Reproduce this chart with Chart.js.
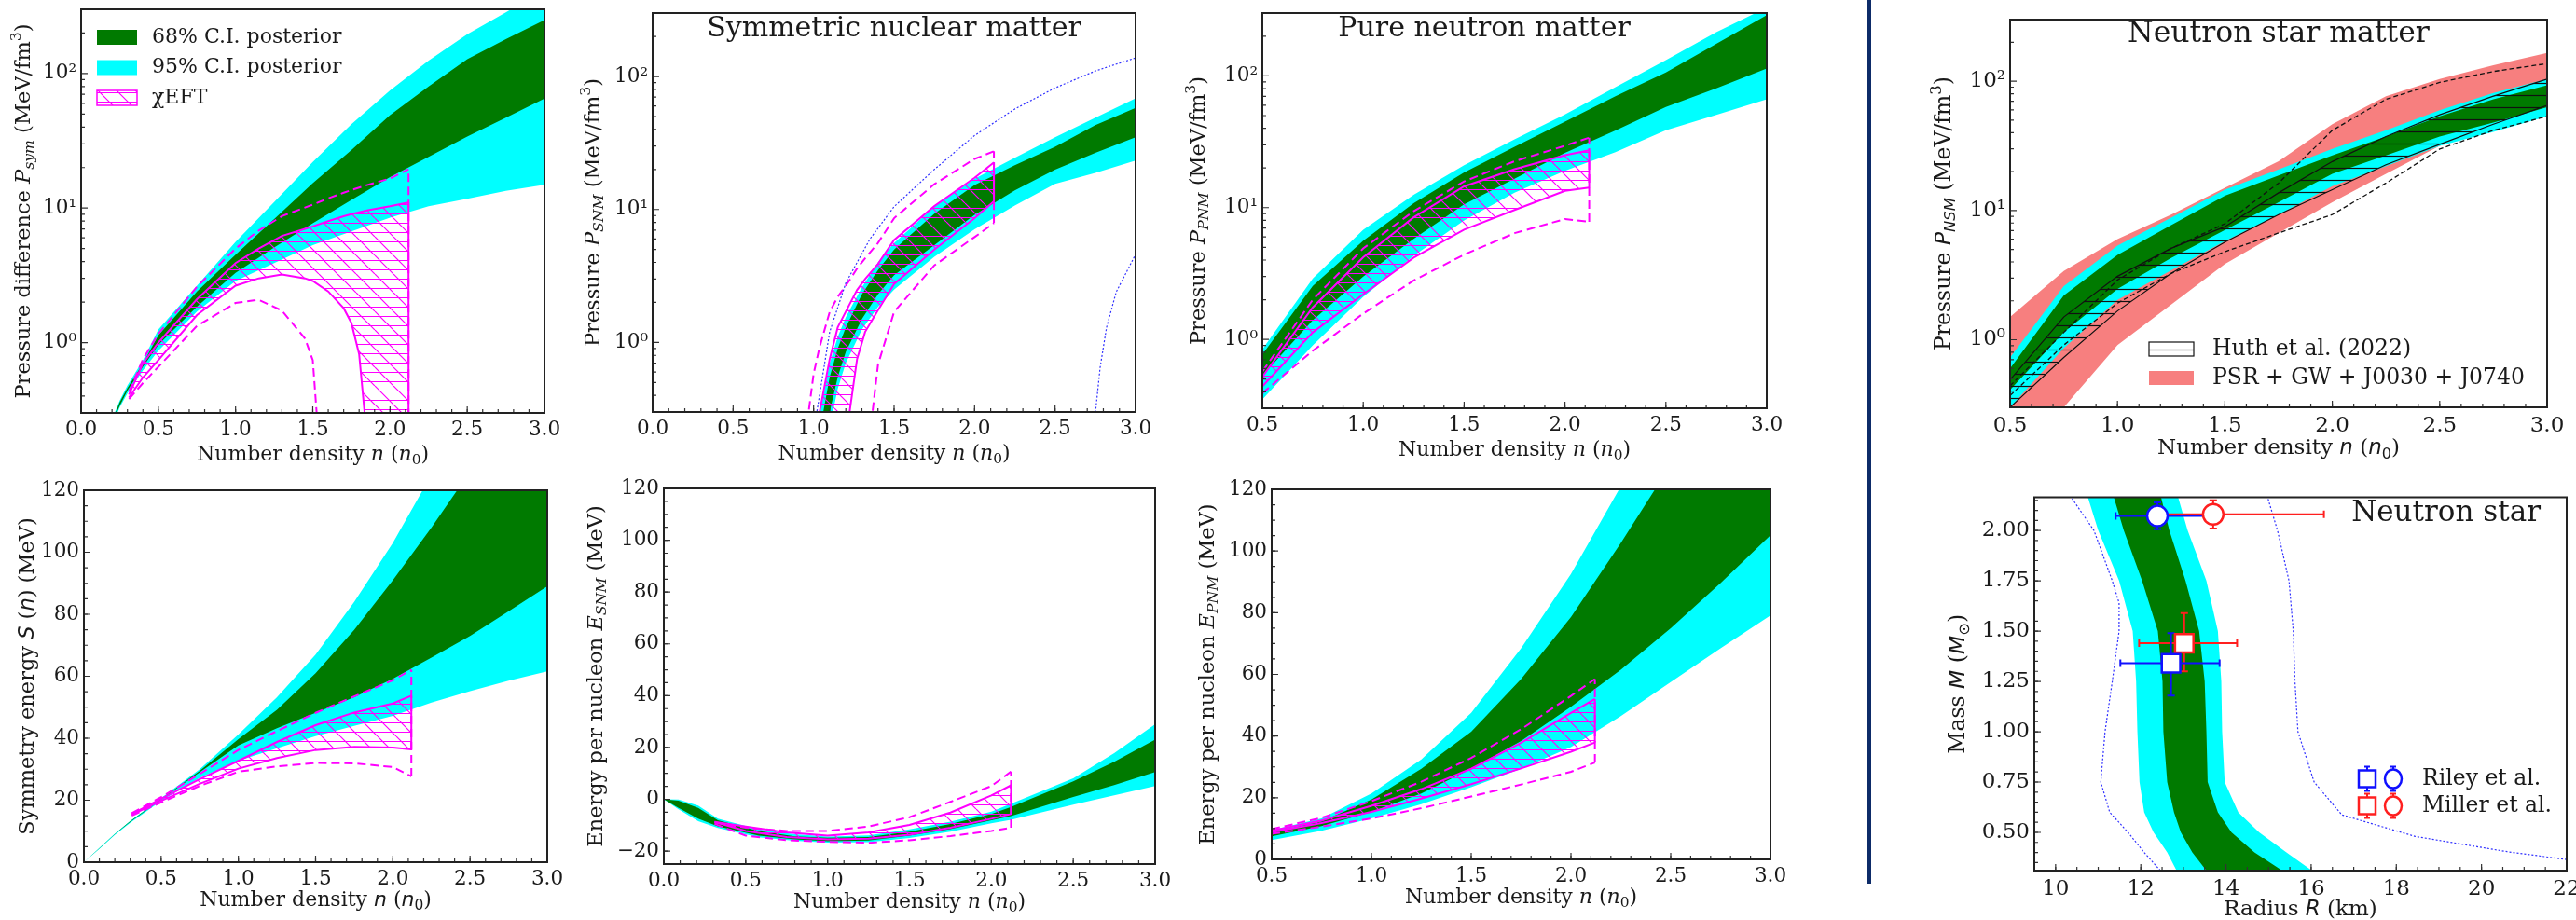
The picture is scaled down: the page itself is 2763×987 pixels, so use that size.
<!DOCTYPE html>
<html>
<head>
<meta charset="utf-8">
<title>Dense matter constraints</title>
<script src="https://cdn.jsdelivr.net/npm/chart.js@4.4.1/dist/chart.umd.min.js"></script>
<style>
  html, body { margin: 0; padding: 0; background: #fff; }
  body { position: relative; width: 2763px; height: 987px; overflow: hidden; }
  canvas { position: absolute; }
  #divider { position: absolute; left: 2002px; top: 0; width: 5px; height: 948px; background: #0d2b68; }
</style>
</head>
<body>
<div id="divider"></div>
<script>
const SERIF = "'DejaVu Serif', serif";
const SANS = "'DejaVu Sans', sans-serif";
const INK = '#1a1a1a';
const GREEN = '#007a00';
const CYAN = '#00ffff';
const MAGENTA = '#ff00ff';
const SALMON = '#f77f7f';
const BLUE = '#1010ff';
const RED = '#ff1f1f';
const DOTBLUE = '#3030ff';
const DASH = [9, 5];

// ---------- tick labels ----------
const ticksN0 = [0, 0.5, 1, 1.5, 2, 2.5, 3];
const ticksN05 = [0.5, 1, 1.5, 2, 2.5, 3];
const ticksLog = [1, 10, 100];
const ticksE = [0, 20, 40, 60, 80, 100, 120];
const ticksESNM = [-20, 0, 20, 40, 60, 80, 100, 120];
const ticksR = [10, 12, 14, 16, 18, 20, 22];
const ticksM = [0.5, 0.75, 1.0, 1.25, 1.5, 1.75, 2.0];

// ---------- pressure difference P_sym ----------
const symN = [0.2, 0.25, 0.3, 0.4, 0.5, 0.75, 1.0, 1.25, 1.5, 1.75, 2.0, 2.25, 2.5, 2.75, 3.0];
const symP95Hi = [0.27, 0.37, 0.48, 0.74, 1.25, 2.65, 5.6, 11.1, 22, 42, 75, 125, 196, 285, 420];
const symP68Hi = [0.26, 0.36, 0.46, 0.7, 1.13, 2.4, 4.5, 8.3, 15.3, 27, 49, 80, 128, 180, 250];
const symP68Lo = [0.25, 0.34, 0.44, 0.66, 0.96, 1.85, 3.3, 5.1, 7.7, 11.5, 17, 24, 34, 47, 65];
const symP95Lo = [0.24, 0.33, 0.42, 0.62, 0.87, 1.7, 2.87, 3.9, 5.3, 6.7, 8.5, 10.3, 11.7, 13.4, 14.9];
const symEftN = [0.31, 0.4, 0.5, 0.75, 1.0, 1.15, 1.3, 1.45, 1.5, 1.6, 1.7, 1.75, 1.8, 1.85, 2.0, 2.12];
const symEftHi = [0.41, 0.7, 1.0, 2.1, 3.9, 5.0, 6.2, 7.0, 7.3, 8.0, 8.7, 9.0, 9.3, 9.6, 10.3, 11.0];
const symEftLo = [0.39, 0.55, 0.74, 1.6, 2.65, 3.0, 3.2, 3.0, 2.87, 2.4, 1.8, 1.4, 0.82, 0.2, 0.05, 0.03];
const symEftHiB = [0.43, 0.75, 1.16, 2.6, 5.0, 6.8, 8.7, 10.1, 10.6, 11.8, 13.0, 13.6, 14.2, 14.8, 16.6, 19.4];
const symEftLoB = [0.38, 0.5, 0.66, 1.33, 1.97, 2.08, 1.73, 1.07, 0.74, 0.02, null, null, null, null, null, null];

// ---------- symmetric nuclear matter pressure ----------
const snmN = [1.0, 1.03, 1.06, 1.1, 1.15, 1.2, 1.3, 1.4, 1.5, 1.75, 2.0, 2.25, 2.5, 2.75, 3.0];
const snmP95Hi = [0.15, 0.25, 0.4, 0.7, 1.1, 1.55, 2.6, 4.0, 5.6, 10.5, 17, 24.5, 34.9, 49, 68.5];
const snmP68Hi = [0.1, 0.18, 0.3, 0.55, 0.9, 1.3, 2.3, 3.5, 5.0, 9.3, 15.3, 21.5, 29.6, 43, 58];
const snmP68Lo = [0.05, 0.1, 0.18, 0.3, 0.55, 0.85, 1.5, 2.3, 3.2, 5.4, 9.1, 13.9, 19.9, 26.7, 34.9];
const snmP95Lo = [0.03, 0.06, 0.12, 0.23, 0.45, 0.7, 1.25, 1.85, 2.5, 4.4, 7.1, 10.7, 15.6, 18.8, 23.3];
const snmEftN = [0.95, 1.0, 1.035, 1.1, 1.15, 1.22, 1.27, 1.32, 1.4, 1.5, 1.75, 2.0, 2.12];
const snmEftHi = [0.05, 0.13, 0.29, 0.75, 1.3, 1.9, 2.48, 3.0, 3.9, 5.9, 10.6, 17.3, 22.6];
const snmEftLo = [0.005, 0.01, 0.02, 0.05, 0.1, 0.28, 0.75, 1.2, 1.75, 2.75, 5.0, 8.6, 11.5];
const snmEftHiB = [0.2, 0.58, 0.9, 1.7, 2.2, 2.9, 3.6, 4.3, 5.6, 8.6, 15.5, 24, 27.4];
const snmEftLoB = [null, null, null, null, null, null, null, 0.1, 0.68, 1.7, 3.8, 6.2, 7.9];
const snmPriorN = [1.0, 1.02, 1.1, 1.2, 1.35, 1.5, 1.75, 2.0, 2.25, 2.5, 2.75, 3.0, 3.0, 2.95, 2.88, 2.82, 2.78, 2.75, 2.74];
const snmPriorP = [0.15, 0.3, 1.2, 2.8, 6.0, 10.5, 20, 36, 57, 82, 110, 138, 4.6, 3.5, 2.4, 1.3, 0.65, 0.29, 0.2];

// ---------- pure neutron matter pressure ----------
const pnmN = [0.5, 0.75, 1.0, 1.25, 1.5, 1.75, 2.0, 2.25, 2.5, 2.75, 3.0];
const pnmP95Hi = [0.84, 2.9, 6.8, 12.5, 21, 33, 51, 82, 132, 215, 330];
const pnmP68Hi = [0.77, 2.55, 5.6, 10.8, 18.5, 29, 45, 70, 106, 175, 289];
const pnmP68Lo = [0.53, 1.4, 3.0, 5.8, 10.6, 16.6, 26, 38.5, 58, 80.5, 114];
const pnmP95Lo = [0.35, 0.9, 2.1, 4.3, 8.0, 13, 19, 26.4, 38.7, 50.7, 66.5];
const pnmEftN = [0.5, 0.75, 1.0, 1.25, 1.5, 1.75, 2.0, 2.12];
const pnmEftHi = [0.52, 1.75, 4.2, 8.45, 14.5, 19.6, 25, 27.2];
const pnmEftLo = [0.44, 1.13, 2.2, 4.17, 6.8, 9.6, 13.4, 14.2];
const pnmEftHiB = [0.57, 2.0, 4.9, 9.4, 15.8, 22.5, 29.5, 34];
const pnmEftLoB = [0.39, 0.82, 1.57, 2.8, 4.4, 6.4, 8.2, 7.8];

// ---------- neutron star matter pressure ----------
const nsmN = [0.5, 0.75, 1.0, 1.25, 1.5, 1.75, 2.0, 2.25, 2.5, 2.75, 3.0];
const nsmAstroHi = [1.5, 3.4, 6.0, 9.3, 15, 24, 46.5, 76.7, 104, 133, 166];
const nsmAstroLo = [0.12, 0.3, 0.91, 1.87, 3.85, 6.7, 11.6, 19.2, 31.6, 46, 60];
const nsmP95Hi = [0.73, 2.6, 5.36, 8.8, 14.5, 20.8, 29.9, 41.7, 59.7, 81, 104];
const nsmP68Hi = [0.6, 2.2, 4.54, 7.7, 13, 18.7, 26.7, 37.3, 53.5, 72.5, 93];
const nsmP68Lo = [0.41, 1.14, 2.47, 4.3, 7.07, 11.6, 19.2, 26.7, 37.3, 47.9, 63];
const nsmP95Lo = [0.3, 0.86, 2.03, 3.44, 5.8, 9.3, 15.4, 22, 31.6, 40.5, 53.5];
const nsmHuthHi = [0.49, 1.5, 3.1, 5.1, 7.5, 13.7, 23.9, 37.3, 55, 76.7, 104];
const nsmHuthLo = [0.3, 0.73, 1.67, 3.26, 5.7, 9.3, 14.5, 22.6, 32.5, 46.5, 65];
const nsmDashHi = [0.44, 1.14, 2.9, 5.1, 7.9, 16.3, 41.7, 72.5, 98, 119, 137];
const nsmDashLo = [0.37, 0.91, 1.92, 3.26, 4.8, 6.7, 9.3, 16.3, 29.9, 41.7, 53.5];

// ---------- symmetry energy S(n) ----------
const symEN = [0, 0.1, 0.2, 0.3, 0.5, 0.75, 1.0, 1.25, 1.5, 1.75, 2.0, 2.25, 2.5, 2.75, 3.0];
const symE95Hi = [0, 4.6, 9.2, 13.3, 20.7, 30, 41.2, 53.2, 67, 84, 103, 125, 160, 200, 240];
const symE68Hi = [0, 4.5, 9.1, 13.2, 20.4, 29.5, 39.7, 49.2, 61, 75, 91, 108, 126, 150, 175];
const symE68Lo = [0, 4.4, 9.0, 13.0, 20.2, 29, 37.7, 43.2, 48.2, 53.2, 59.2, 66, 73, 81, 89];
const symE95Lo = [0, 4.3, 8.8, 12.7, 19.8, 27.2, 32.7, 36.8, 40.7, 44, 47.2, 51.5, 55.2, 58.6, 61.6];
const symEEftN = [0.31, 0.5, 0.75, 1.0, 1.25, 1.5, 1.75, 2.0, 2.12];
const symEEftHi = [15.5, 20.5, 26.8, 32.7, 38.8, 44.2, 48.3, 51.2, 53.7];
const symEEftLo = [15.3, 19.8, 25.3, 30.2, 33.6, 36.2, 37.2, 37.0, 36.4];
const symEEftHiB = [15.8, 21, 28.5, 36.2, 42.3, 48.2, 53.5, 58.7, 62.1];
const symEEftLoB = [15.0, 19.3, 24.6, 29.2, 30.9, 32.0, 31.9, 30.7, 27.7];

// ---------- energy per nucleon, SNM ----------
const snmEN = [0, 0.09, 0.21, 0.33, 0.58, 0.8, 1.0, 1.25, 1.5, 1.75, 2.0, 2.12, 2.5, 2.75, 3.0];
const snmE95Hi = [0, -0.06, -2.45, -7.46, -11.64, -13.5, -14.4, -13.9, -11.6, -8.6, -4.8, -1.7, 8.1, 17.8, 29.0];
const snmE68Hi = [0, -0.53, -3.28, -8.06, -12.2, -14.3, -14.87, -14.6, -12.5, -9.5, -5.7, -3.0, 6.9, 14.5, 23.0];
const snmE68Lo = [0, -3.28, -7.46, -10.45, -14.03, -15.5, -16.2, -15.9, -14.0, -11.5, -8.1, -6.5, 0.9, 5.5, 10.5];
const snmE95Lo = [0, -3.88, -8.42, -11.05, -14.63, -16.0, -16.7, -16.5, -14.9, -12.5, -9.3, -7.9, -2.1, 1.5, 5.1];
const snmEEftN = [0.31, 0.5, 0.75, 1.0, 1.25, 1.5, 1.75, 2.0, 2.12];
const snmEEftHi = [-8.7, -10.5, -12.8, -14.0, -12.8, -9.9, -5.1, 1.5, 5.4];
const snmEEftLo = [-8.7, -12.2, -14.6, -15.5, -15.2, -13.7, -11.0, -7.5, -5.7];
const snmEEftHiB = [-9.0, -11.0, -12.2, -12.2, -10.5, -6.9, -1.0, 5.1, 10.7];
const snmEEftLoB = [-9.5, -14.0, -15.8, -16.4, -16.8, -15.8, -14.2, -12.2, -11.0];

// ---------- energy per nucleon, PNM ----------
const pnmEN = [0.5, 0.75, 1.0, 1.25, 1.5, 1.75, 2.0, 2.25, 2.5, 2.75, 3.0];
const pnmE95Hi = [9.5, 13.3, 21.4, 32.4, 47.5, 68.5, 92.6, 121, 150, 190, 230];
const pnmE68Hi = [8.8, 12.3, 19.4, 29.4, 41.4, 58.5, 78.6, 102.6, 128, 160, 190];
const pnmE68Lo = [7.5, 10.8, 15.4, 21.4, 29.4, 38.4, 49.5, 61.5, 75, 89.6, 105.1];
const pnmE95Lo = [6.3, 9.3, 13.3, 17.9, 23.4, 29.4, 36.4, 46.5, 57.5, 68.5, 79.1];
const pnmEEftN = [0.5, 0.75, 1.0, 1.25, 1.5, 1.75, 2.0, 2.12];
const pnmEEftHi = [9.3, 12.6, 17.4, 22.8, 29.4, 37.8, 47.5, 52];
const pnmEEftLo = [8.8, 11.8, 15.4, 19.7, 24.4, 29.5, 34.9, 37.9];
const pnmEEftHiB = [9.8, 13.5, 18.9, 25.2, 32.9, 42.2, 53, 58.5];
const pnmEEftLoB = [8.3, 10.6, 13.3, 16.6, 20.4, 24.3, 28.4, 31.4];

// ---------- mass-radius ----------
const mrMass = [0.31, 0.4, 0.5, 0.6, 0.75, 1.0, 1.25, 1.5, 1.75, 2.0, 2.17];
const mrR95Lo = [12.84, 12.62, 12.3, 12.08, 11.97, 11.92, 11.89, 11.81, 11.49, 11.0, 10.75];
const mrR68Lo = [13.54, 13.21, 12.94, 12.78, 12.62, 12.53, 12.51, 12.4, 12.03, 11.6, 11.36];
const mrR68Hi = [15.32, 14.67, 14.13, 13.81, 13.57, 13.54, 13.5, 13.37, 13.05, 12.67, 12.47];
const mrR95Hi = [16.02, 15.42, 14.78, 14.29, 13.97, 13.91, 13.89, 13.81, 13.54, 13.1, 12.87];
const priorLeftM = [0.31, 0.4, 0.5, 0.6, 0.75, 1.0, 1.25, 1.5, 1.64, 1.75, 2.0, 2.17];
const priorLeftR = [12.46, 12.08, 11.7, 11.27, 11.06, 11.16, 11.33, 11.49, 11.49, 11.33, 10.9, 10.35];
const priorRightM = [0.365, 0.404, 0.48, 0.587, 0.75, 1.0, 1.25, 1.5, 1.75, 2.0, 2.17];
const priorRightR = [22.0, 20.6, 18.44, 16.72, 16.07, 15.69, 15.62, 15.58, 15.48, 15.21, 14.97];
// Riley et al.: [J0030, J0740]
const rileyR = [12.71, 12.39];
const rileyM = [1.34, 2.072];
const rileyRLo = [11.52, 11.41];
const rileyRHi = [13.85, 13.69];
const rileyMLo = [1.18, 2.006];
const rileyMHi = [1.49, 2.139];
// Miller et al.: [J0030, J0740]
const millerR = [13.02, 13.7];
const millerM = [1.44, 2.08];
const millerRLo = [11.96, 12.2];
const millerRHi = [14.26, 16.3];
const millerMLo = [1.30, 2.01];
const millerMHi = [1.59, 2.15];

// ---------- helpers ----------
const range = (a, b, s) => { const r = []; for (let v = a; v <= b + 1e-9; v += s) r.push(+v.toFixed(4)); return r; };
const minorLog = [];
for (const d of [0.1, 1, 10, 100]) for (let k = 2; k <= 9; k++) minorLog.push(+(k * d).toFixed(4));

function hatch(color, size, diag, rows) {
  const c = document.createElement('canvas');
  c.width = size; c.height = size;
  const g = c.getContext('2d');
  g.strokeStyle = color; g.lineWidth = 1.2;
  g.beginPath();
  if (diag) for (const o of [-size, 0, size]) { g.moveTo(o, 0); g.lineTo(o + size, size); }
  for (const y of rows) { g.moveTo(0, y); g.lineTo(size, y); }
  g.stroke();
  return g.createPattern(c, 'repeat');
}
const eftHatch = hatch(MAGENTA, 20, true, [5.5, 15.5]);
const huthHatch = hatch('#111', 13, false, [6.5]);

const pts = (xs, ys) => xs.map((x, i) => ({x, y: ys[i]}));
const band = (xs, lo, hi, color) => ({
  data: pts(xs, hi).concat(pts(xs, lo).reverse()),
  fill: 'shape', backgroundColor: color, borderColor: 'transparent', borderWidth: 0, pointRadius: 0,
});
const sideBand = (ys, left, right, color) => ({
  data: pts(left, ys).concat(pts(right, ys).reverse()),
  fill: 'shape', backgroundColor: color, borderColor: 'transparent', borderWidth: 0, pointRadius: 0,
});
const curve = (xs, ys, color, width, dash) => ({
  data: pts(xs, ys), fill: false, borderColor: color, borderWidth: width, borderDash: dash || [], pointRadius: 0,
});
function eftSet(xs, lo, hi, loB, hiB) {
  const xe = xs[xs.length - 1];
  const loEnd = loB[loB.length - 1] ?? lo[lo.length - 1];
  return [
    band(xs, lo, hi, eftHatch),
    curve(xs, hi, MAGENTA, 2), curve(xs, lo, MAGENTA, 2),
    curve(xs, hiB, MAGENTA, 2, DASH), curve(xs, loB, MAGENTA, 2, DASH),
    curve([xe, xe], [lo[lo.length - 1], hi[hi.length - 1]], MAGENTA, 2),
    curve([xe, xe], [loEnd, hiB[hiB.length - 1]], MAGENTA, 2, DASH),
  ];
}
function errBars(R, M, RLo, RHi, MLo, MHi, color) {
  const out = [];
  const common = {borderColor: color, borderWidth: 2, fill: false, pointStyle: 'line', pointRadius: 4,
    pointBorderColor: color, pointBorderWidth: 2};
  R.forEach((r, i) => {
    out.push({...common, data: [{x: RLo[i], y: M[i]}, {x: RHi[i], y: M[i]}], pointRotation: 90});
    out.push({...common, data: [{x: r, y: MLo[i]}, {x: r, y: MHi[i]}], pointRotation: 0});
  });
  return out;
}
const markers = (R, M, color) => ({
  data: pts(R, M), showLine: false, pointStyle: ['rect', 'circle'], pointRadius: [14, 11],
  pointBackgroundColor: '#fff', pointBorderColor: color, pointBorderWidth: 2.5,
});

const f1 = v => v.toFixed(1);
const f2 = v => v.toFixed(2);
const fInt = v => (v < 0 ? '\u2212' + Math.abs(v) : String(v));
const fPow = v => '10' + '\u2070\u00b9\u00b2\u00b3'[Math.round(Math.log10(v))];

// rich text: flags i = italic, s = subscript, p = superscript, a = sans
function drawRich(ctx, parts, x, y, size, rotate) {
  const fontFor = f => {
    const sz = /[sp]/.test(f) ? size * 0.7 : size;
    return (f.includes('i') ? 'italic ' : '') + sz.toFixed(1) + 'px ' + (f.includes('a') ? SANS : SERIF);
  };
  ctx.save();
  ctx.translate(x, y);
  if (rotate) ctx.rotate(-Math.PI / 2);
  let w = 0;
  for (const [t, f = ''] of parts) { ctx.font = fontFor(f); w += ctx.measureText(t).width; }
  let cx = -w / 2;
  ctx.textAlign = 'left'; ctx.textBaseline = 'middle'; ctx.fillStyle = INK;
  for (const [t, f = ''] of parts) {
    ctx.font = fontFor(f);
    const dy = f.includes('s') ? size * 0.28 : f.includes('p') ? -size * 0.36 : 0;
    ctx.fillText(t, cx, dy);
    cx += ctx.measureText(t).width;
  }
  ctx.restore();
}

function deco(cfg) {
  return {
    id: 'deco',
    afterDatasetsDraw(chart) {
      const {ctx, chartArea: a, scales: {x, y}} = chart;
      ctx.save();
      ctx.strokeStyle = '#333'; ctx.lineWidth = 1.2;
      const marks = (scale, vals, len, isX) => {
        ctx.beginPath();
        for (const v of vals) {
          if (v < scale.min - 1e-9 || v > scale.max + 1e-9) continue;
          const p = scale.getPixelForValue(v);
          if (isX) { ctx.moveTo(p, a.bottom); ctx.lineTo(p, a.bottom - len); }
          else { ctx.moveTo(a.left, p); ctx.lineTo(a.left + len, p); }
        }
        ctx.stroke();
      };
      marks(x, cfg.xMinor, 4, true); marks(x, cfg.xMajor, 7, true);
      marks(y, cfg.yMinor, 4, false); marks(y, cfg.yMajor, 7, false);
      ctx.lineWidth = 2; ctx.strokeStyle = '#222';
      ctx.strokeRect(a.left, a.top, a.right - a.left, a.bottom - a.top);
      drawRich(ctx, cfg.xTitle, (a.left + a.right) / 2, a.bottom + cfg.xOff, cfg.axSize, false);
      drawRich(ctx, cfg.yTitle, a.left - cfg.yOff, (a.top + a.bottom) / 2, cfg.axSize + 0.5, true);
      if (cfg.title) {
        const t = cfg.title;
        ctx.font = t.size + 'px ' + SERIF; ctx.fillStyle = INK; ctx.textBaseline = 'middle';
        ctx.textAlign = t.align || 'center';
        const tx = t.align === 'right' ? a.right - t.dx : a.left + t.fx * (a.right - a.left);
        ctx.fillText(t.text, tx, a.top + t.dy);
      }
      if (cfg.legend) cfg.legend(ctx, a);
      ctx.restore();
    },
  };
}

const PAD_L = 125, PAD_T = 16, PAD_R = 32, PAD_B = 62;
function panel(box, xs, ys, datasets, cfg) {
  const [L, T, R, B] = box;
  const cv = document.createElement('canvas');
  cv.width = PAD_L + (R - L) + PAD_R;
  cv.height = PAD_T + (B - T) + PAD_B;
  cv.style.left = (L - PAD_L) + 'px';
  cv.style.top = (T - PAD_T) + 'px';
  document.body.appendChild(cv);
  datasets.forEach((d, i) => { d.order = datasets.length - i; d.tension = 0; });
  const tickFont = {family: SERIF, size: cfg.size};
  const axisBase = (spec, isX) => ({
    type: spec.type || 'linear', min: spec.min, max: spec.max,
    afterBuildTicks: s => { s.ticks = spec.ticks.map(v => ({value: v})); },
    afterFit: s => {
      if (isX) { s.height = PAD_B; s.paddingLeft = 0; s.paddingRight = 0; }
      else { s.width = PAD_L; s.paddingTop = 0; s.paddingBottom = 0; }
    },
    grid: {display: false, drawTicks: false},
    border: {display: false},
    ticks: {autoSkip: false, maxRotation: 0, padding: isX ? 6 : 5, color: INK, font: tickFont, callback: spec.fmt},
  });
  cfg.xMajor = xs.ticks; cfg.yMajor = ys.ticks;
  return new Chart(cv.getContext('2d'), {
    type: 'line',
    data: {datasets},
    options: {
      responsive: false, animation: false, devicePixelRatio: 1, events: [],
      layout: {padding: {left: 0, top: PAD_T, right: PAD_R, bottom: 0}},
      elements: {point: {radius: 0}, line: {tension: 0}},
      plugins: {legend: {display: false}, tooltip: {enabled: false}},
      scales: {x: axisBase(xs, true), y: axisBase(ys, false)},
    },
    plugins: [deco(cfg)],
  });
}

const numDen = [['Number density '], ['n', 'i'], [' ('], ['n', 'i'], ['0', 's'], [')']];
const numDenSans = [['Number density '], ['n', 'ia'], [' ('], ['n', 'ia'], ['0', 'sa'], [')']];
const xFull = {min: 0, max: 3, ticks: ticksN0, fmt: f1};
const xHalf = {min: 0.5, max: 3, ticks: ticksN05, fmt: f1};
const yLog = {type: 'logarithmic', min: 0.3, max: 300, ticks: ticksLog, fmt: fPow};
const minorN0 = range(0, 3, 0.1);
const minorE = range(-25, 120, 5);
const LEFT = {size: 21.5, axSize: 22};
const RIGHT = {size: 23, axSize: 23};

// ---------- top row ----------
panel([87, 10, 584, 443], xFull, yLog, [
  band(symN, symP95Lo, symP95Hi, CYAN),
  band(symN, symP68Lo, symP68Hi, GREEN),
  ...eftSet(symEftN, symEftLo, symEftHi, symEftLoB, symEftHiB),
], {
  ...LEFT, xTitle: numDen, xOff: 45, yOff: 61, xMinor: minorN0, yMinor: minorLog,
  yTitle: [['Pressure difference '], ['P', 'i'], ['sym', 'is'], [' (MeV/fm'], ['3', 'p'], [')']],
  legend(ctx, a) {
    const rows = [[GREEN, '68% C.I. posterior'], [CYAN, '95% C.I. posterior'], [eftHatch, '\u03c7EFT']];
    rows.forEach(([fill, label], i) => {
      const bx = a.left + 17, by = a.top + 22 + i * 32.5;
      if (i === 2) { ctx.fillStyle = '#fff'; ctx.fillRect(bx, by, 43, 16); }
      ctx.fillStyle = fill; ctx.fillRect(bx, by, 43, 16);
      if (i === 2) { ctx.strokeStyle = MAGENTA; ctx.lineWidth = 1.5; ctx.strokeRect(bx, by, 43, 16); }
      ctx.fillStyle = INK; ctx.font = '22px ' + SERIF; ctx.textAlign = 'left'; ctx.textBaseline = 'middle';
      ctx.fillText(label, a.left + 76, by + 8);
    });
  },
});

panel([700, 14, 1218, 442], xFull, yLog, [
  band(snmN, snmP95Lo, snmP95Hi, CYAN),
  band(snmN, snmP68Lo, snmP68Hi, GREEN),
  ...eftSet(snmEftN, snmEftLo, snmEftHi, snmEftLoB, snmEftHiB),
  curve(snmPriorN, snmPriorP, DOTBLUE, 1.2, [2, 2]),
], {
  ...LEFT, xTitle: numDen, xOff: 45, yOff: 63, xMinor: minorN0, yMinor: minorLog,
  yTitle: [['Pressure '], ['P', 'i'], ['SNM', 'is'], [' (MeV/fm'], ['3', 'p'], [')']],
  title: {text: 'Symmetric nuclear matter', size: 30, fx: 0.5, dy: 17},
});

panel([1354, 14, 1895, 438], xHalf, yLog, [
  band(pnmN, pnmP95Lo, pnmP95Hi, CYAN),
  band(pnmN, pnmP68Lo, pnmP68Hi, GREEN),
  ...eftSet(pnmEftN, pnmEftLo, pnmEftHi, pnmEftLoB, pnmEftHiB),
], {
  ...LEFT, xTitle: numDen, xOff: 45, yOff: 68, xMinor: range(0.5, 3, 0.1), yMinor: minorLog,
  yTitle: [['Pressure '], ['P', 'i'], ['PNM', 'is'], [' (MeV/fm'], ['3', 'p'], [')']],
  title: {text: 'Pure neutron matter', size: 30, fx: 0.44, dy: 17},
});

panel([2156, 21, 2732, 437], xHalf, yLog, [
  band(nsmN, nsmAstroLo, nsmAstroHi, SALMON),
  band(nsmN, nsmP95Lo, nsmP95Hi, CYAN),
  band(nsmN, nsmP68Lo, nsmP68Hi, GREEN),
  band(nsmN, nsmHuthLo, nsmHuthHi, huthHatch),
  curve(nsmN, nsmHuthHi, '#111', 1.2), curve(nsmN, nsmHuthLo, '#111', 1.2),
  curve(nsmN, nsmDashHi, '#111', 1.3, [5, 3]), curve(nsmN, nsmDashLo, '#111', 1.3, [5, 3]),
], {
  ...RIGHT, xTitle: numDenSans, xOff: 44, yOff: 70, xMinor: range(0.5, 3, 0.1), yMinor: minorLog,
  yTitle: [['Pressure '], ['P', 'ia'], ['NSM', 'ias'], [' (MeV/fm'], ['3', 'p'], [')']],
  title: {text: 'Neutron star matter', size: 31.5, fx: 0.5, dy: 16},
  legend(ctx, a) {
    const bx = a.left + 149;
    ctx.fillStyle = '#fff'; ctx.fillRect(bx, a.top + 346, 48, 15);
    ctx.fillStyle = huthHatch; ctx.fillRect(bx, a.top + 346, 48, 15);
    ctx.strokeStyle = '#111'; ctx.lineWidth = 1.2; ctx.strokeRect(bx, a.top + 346, 48, 15);
    ctx.fillStyle = SALMON; ctx.fillRect(bx, a.top + 377, 48, 15);
    ctx.fillStyle = INK; ctx.font = '23.5px ' + SERIF; ctx.textAlign = 'left'; ctx.textBaseline = 'middle';
    ctx.fillText('Huth et al. (2022)', a.left + 217, a.top + 354);
    ctx.fillText('PSR + GW + J0030 + J0740', a.left + 217, a.top + 385);
  },
});

// ---------- bottom row ----------
panel([90, 526, 587, 925], xFull, {min: 0, max: 120, ticks: ticksE, fmt: fInt}, [
  band(symEN, symE95Lo, symE95Hi, CYAN),
  band(symEN, symE68Lo, symE68Hi, GREEN),
  ...eftSet(symEEftN, symEEftLo, symEEftHi, symEEftLoB, symEEftHiB),
], {
  ...LEFT, xTitle: numDenSans, xOff: 41, yOff: 60, xMinor: minorN0, yMinor: minorE,
  yTitle: [['Symmetry energy '], ['S', 'ia'], [' ('], ['n', 'ia'], [') (MeV)']],
});

panel([712, 524, 1239, 927], xFull, {min: -25, max: 120, ticks: ticksESNM, fmt: fInt}, [
  band(snmEN, snmE95Lo, snmE95Hi, CYAN),
  band(snmEN, snmE68Lo, snmE68Hi, GREEN),
  ...eftSet(snmEEftN, snmEEftLo, snmEEftHi, snmEEftLoB, snmEEftHiB),
], {
  ...LEFT, xTitle: numDen, xOff: 41, yOff: 72, xMinor: minorN0, yMinor: minorE,
  yTitle: [['Energy per nucleon '], ['E', 'i'], ['SNM', 'is'], [' (MeV)']],
});

panel([1364, 525, 1899, 922], xHalf, {min: 0, max: 120, ticks: ticksE, fmt: fInt}, [
  band(pnmEN, pnmE95Lo, pnmE95Hi, CYAN),
  band(pnmEN, pnmE68Lo, pnmE68Hi, GREEN),
  ...eftSet(pnmEEftN, pnmEEftLo, pnmEEftHi, pnmEEftLoB, pnmEEftHiB),
], {
  ...LEFT, xTitle: numDen, xOff: 41, yOff: 68, xMinor: range(0.5, 3, 0.1), yMinor: minorE,
  yTitle: [['Energy per nucleon '], ['E', 'i'], ['PNM', 'is'], [' (MeV)']],
});

panel([2182, 533, 2753, 934], {min: 9.5, max: 22, ticks: ticksR, fmt: v => String(v)},
  {min: 0.31, max: 2.165, ticks: ticksM, fmt: f2}, [
  sideBand(mrMass, mrR95Lo, mrR95Hi, CYAN),
  sideBand(mrMass, mrR68Lo, mrR68Hi, GREEN),
  curve(priorLeftR, priorLeftM, DOTBLUE, 1.2, [2, 2]),
  curve(priorRightR, priorRightM, DOTBLUE, 1.2, [2, 2]),
  ...errBars(millerR, millerM, millerRLo, millerRHi, millerMLo, millerMHi, RED),
  ...errBars(rileyR, rileyM, rileyRLo, rileyRHi, rileyMLo, rileyMHi, BLUE),
  markers(millerR, millerM, RED),
  markers(rileyR, rileyM, BLUE),
], {
  ...RIGHT, xOff: 42, yOff: 81, xMinor: range(9.5, 22, 0.5), yMinor: range(0.35, 2.15, 0.05),
  xTitle: [['Radius '], ['R', 'ia'], [' (km)']],
  yTitle: [['Mass '], ['M', 'ia'], [' ('], ['M', 'ia'], ['\u2299', 'sa'], [')']],
  title: {text: 'Neutron star', size: 31, align: 'right', dx: 28, dy: 17},
  legend(ctx, a) {
    [[BLUE, 'Riley et al.'], [RED, 'Miller et al.']].forEach(([c, label], i) => {
      const cy = a.top + 302 + i * 29, xs = a.left + 357, xc = a.left + 385;
      ctx.strokeStyle = c; ctx.lineWidth = 2;
      ctx.beginPath();
      for (const px of [xs, xc]) {
        ctx.moveTo(px, cy - 13); ctx.lineTo(px, cy + 13);
        ctx.moveTo(px - 3, cy - 13); ctx.lineTo(px + 3, cy - 13);
        ctx.moveTo(px - 3, cy + 13); ctx.lineTo(px + 3, cy + 13);
      }
      ctx.stroke();
      ctx.fillStyle = '#fff'; ctx.lineWidth = 2.5;
      ctx.fillRect(xs - 9, cy - 9, 18, 18); ctx.strokeRect(xs - 9, cy - 9, 18, 18);
      ctx.beginPath(); ctx.ellipse(xc, cy, 9, 10, 0, 0, 2 * Math.PI); ctx.fill(); ctx.stroke();
      ctx.fillStyle = INK; ctx.font = '23.5px ' + SERIF; ctx.textAlign = 'left'; ctx.textBaseline = 'middle';
      ctx.fillText(label, a.left + 416, cy);
    });
  },
});
</script>
</body>
</html>
